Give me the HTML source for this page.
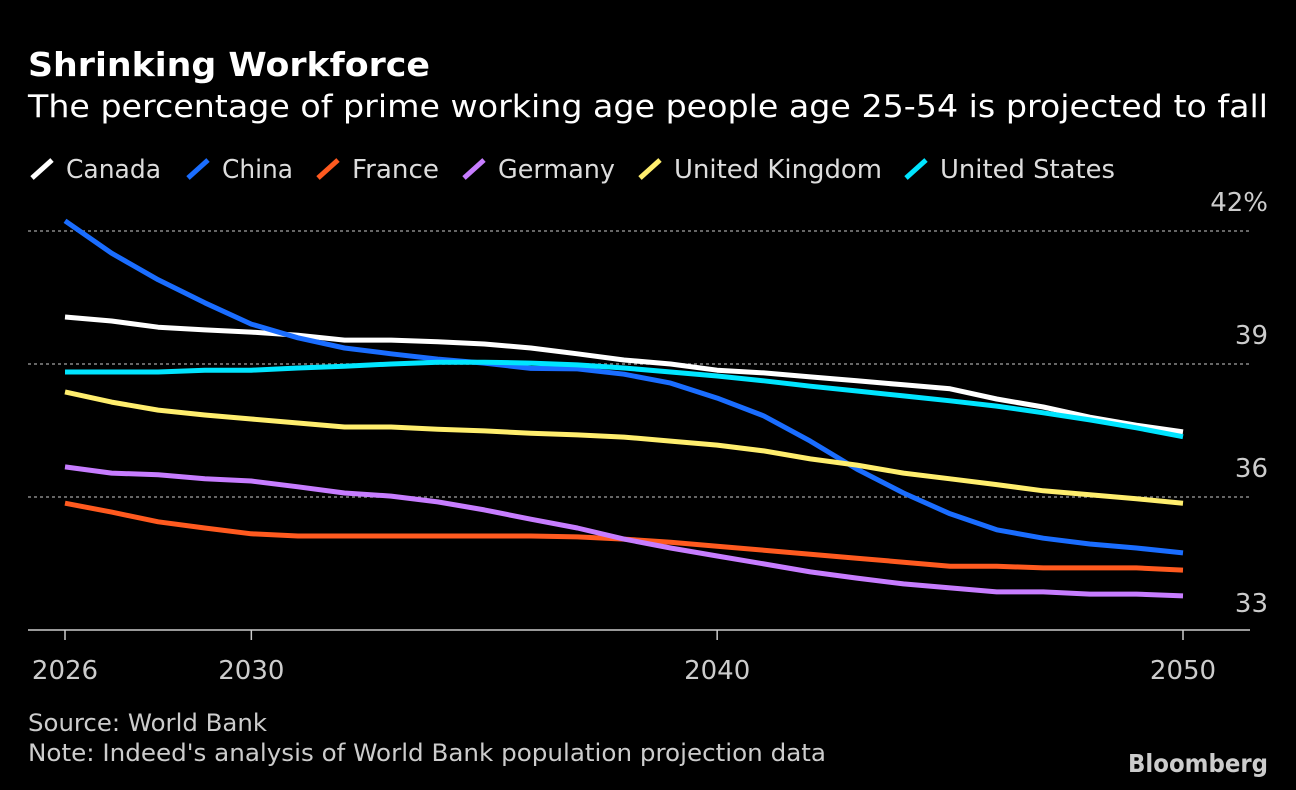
<!DOCTYPE html>
<html><head><meta charset="utf-8"><style>
html,body{margin:0;padding:0;background:#000;width:1296px;height:790px;overflow:hidden;font-family:"DejaVu Sans","Liberation Sans",sans-serif;color:#fff}
svg text{font-family:"DejaVu Sans","Liberation Sans",sans-serif}
</style></head><body>
<svg width="1296" height="790" xmlns="http://www.w3.org/2000/svg">
<text x="28" y="76" font-size="33" font-weight="bold" fill="#fff" textLength="402" lengthAdjust="spacingAndGlyphs">Shrinking Workforce</text>
<text x="28" y="117" font-size="31" fill="#fff" textLength="1240" lengthAdjust="spacingAndGlyphs">The percentage of prime working age people age 25-54 is projected to fall</text>
<g id="legend"></g>
<g id="grid"></g>
<g id="lines"></g>
<g id="xaxis"></g>
<text x="28" y="731" font-size="24" fill="#ccc" textLength="239" lengthAdjust="spacingAndGlyphs">Source: World Bank</text>
<text x="28" y="761" font-size="24" fill="#ccc" textLength="798" lengthAdjust="spacingAndGlyphs">Note: Indeed's analysis of World Bank population projection data</text>
<text x="1128" y="772" font-size="25" font-weight="bold" fill="#ccc" textLength="140" lengthAdjust="spacingAndGlyphs">Bloomberg</text>
</svg>
<script>
const years=[2026,2027,2028,2029,2030,2031,2032,2033,2034,2035,2036,2037,2038,2039,2040,2041,2042,2043,2044,2045,2046,2047,2048,2049,2050];
const seriesNames=["Canada","China","France","Germany","United Kingdom","United States"];
const canada=[40.06,39.97,39.83,39.77,39.72,39.65,39.54,39.54,39.5,39.45,39.36,39.23,39.09,39.0,38.86,38.8,38.71,38.62,38.53,38.44,38.21,38.03,37.8,37.62,37.47];
const china=[42.23,41.5,40.9,40.38,39.9,39.59,39.36,39.23,39.11,39.02,38.9,38.89,38.77,38.57,38.23,37.83,37.26,36.63,36.09,35.62,35.26,35.07,34.94,34.85,34.74];
const france=[35.86,35.66,35.44,35.3,35.17,35.12,35.12,35.12,35.12,35.12,35.12,35.1,35.05,34.98,34.89,34.8,34.71,34.62,34.53,34.44,34.44,34.4,34.4,34.4,34.35];
const germany=[36.68,36.54,36.5,36.41,36.36,36.23,36.09,36.02,35.89,35.71,35.5,35.3,35.05,34.85,34.67,34.49,34.31,34.17,34.04,33.95,33.86,33.86,33.81,33.81,33.77];
const uk=[38.37,38.14,37.96,37.85,37.76,37.67,37.58,37.58,37.53,37.49,37.44,37.4,37.35,37.26,37.17,37.04,36.86,36.72,36.54,36.41,36.28,36.14,36.05,35.96,35.86];
const us=[38.82,38.82,38.82,38.86,38.86,38.91,38.95,39.0,39.04,39.04,39.02,38.98,38.91,38.82,38.73,38.62,38.5,38.39,38.28,38.17,38.05,37.9,37.74,37.56,37.36];
const yTicks=[42,39,36,33];
const yTickLabels=["42%","39","36","33"];
const xTicks=[2026,2030,2040,2050];
const colors=["#ffffff","#1a6dff","#ff5a1f","#c77dff","#ffee6e","#00e5ff"];
const allSeries=[canada,china,france,germany,uk,us];
const NS="http://www.w3.org/2000/svg";
function xs(yr){return 65+(yr-2026)*(1183-65)/24;}
function ys(v){return 231+(42-v)*(630-231)/9;}
function mk(tag,attrs,parent){const e=document.createElementNS(NS,tag);for(const k in attrs)e.setAttribute(k,attrs[k]);parent.appendChild(e);return e;}
const grid=document.getElementById('grid');
yTicks.forEach((t,i)=>{
  if(t!==33){const l=mk('line',{x1:28,x2:1250,y1:ys(t),y2:ys(t),stroke:'#888','stroke-width':1.5,'stroke-dasharray':'3,3'},grid);
  
  }
  const tx=mk('text',{x:1268,y:ys(t)-(t===33?18:20),'font-size':26,fill:'#ccc','text-anchor':'end'},grid);
  tx.textContent=yTickLabels[i];
  
  
});
const xa=document.getElementById('xaxis');
const base=mk('line',{x1:28,x2:1250,y1:630,y2:630,stroke:'#ccc','stroke-width':1.5},xa);


xTicks.forEach(t=>{
  const tk=mk('line',{x1:xs(t),x2:xs(t),y1:630,y2:640,stroke:'#ccc','stroke-width':1.5},xa);
  
  
  const tx=mk('text',{x:xs(t),y:679,'font-size':26,fill:'#ccc','text-anchor':'middle'},xa);
  tx.textContent=t;
  
  
});
const lines=document.getElementById('lines');
allSeries.forEach((s,i)=>{
  const d=s.map((v,j)=>(j?'L':'M')+xs(years[j]).toFixed(1)+','+ys(v).toFixed(1)).join('');
  const p=mk('path',{d:d,fill:'none',stroke:colors[i],'stroke-width':5,'stroke-linejoin':'round'},lines);
  
  
});
const lg=document.getElementById('legend');
const lx=[30,186,316,462,638,904];
const lw=[95,71,87,117,208,175];
seriesNames.forEach((n,i)=>{
  const g=mk('g',{},lg);
  
  
  mk('line',{x1:lx[i]+2,y1:178,x2:lx[i]+22,y2:160,stroke:colors[i],'stroke-width':5},g);
  const t=mk('text',{x:lx[i]+36,y:178,'font-size':26,fill:'#ddd',textLength:lw[i],lengthAdjust:'spacingAndGlyphs'},g);
  t.textContent=n;
});
</script>
</body></html>
